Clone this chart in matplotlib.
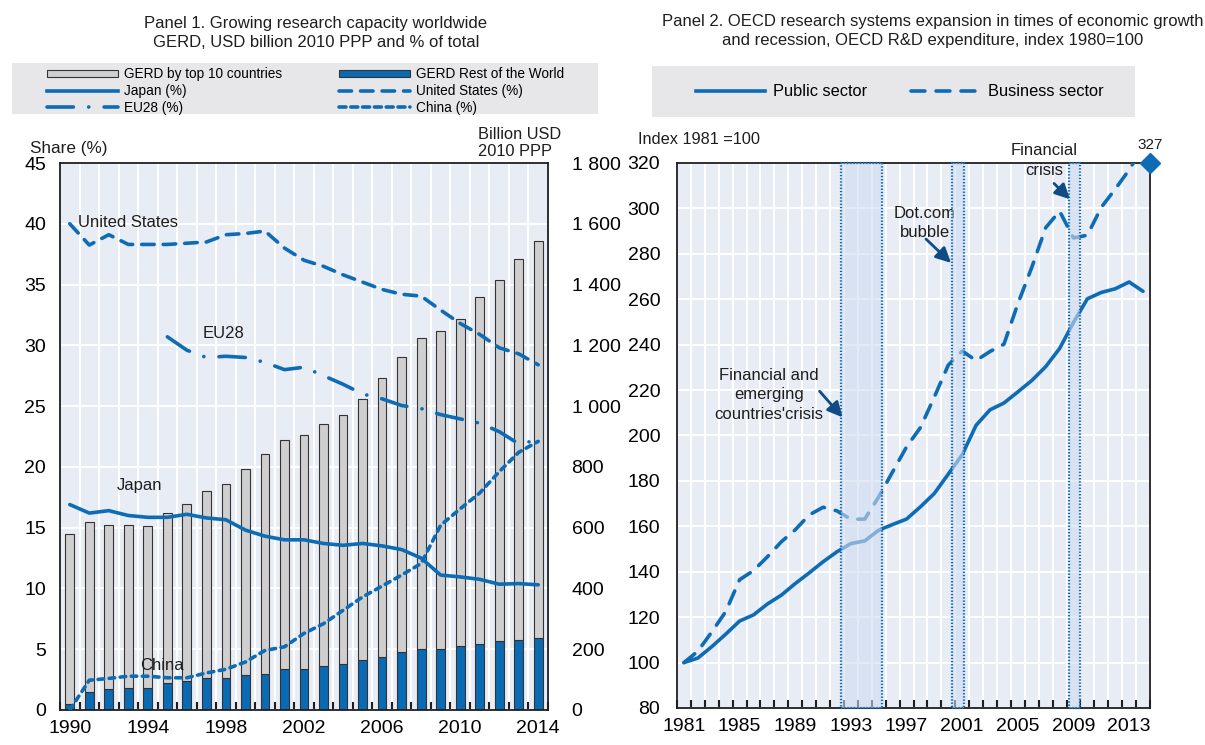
import matplotlib
matplotlib.use("Agg")
import matplotlib.pyplot as plt
from matplotlib.patches import Rectangle, Patch
from matplotlib.lines import Line2D
from matplotlib.ticker import FixedLocator, FuncFormatter
import numpy as np

plt.rcParams["font.family"] = ["Liberation Sans Narrow", "Liberation Sans", "DejaVu Sans"]
plt.rcParams["lines.scale_dashes"] = False

# ---------------- data: panel 1 ----------------
years1 = list(range(1990, 2015))
gerd_top10 = [560, 560, 538, 534, 534, 560, 582, 616, 638, 676, 724, 752, 768, 796,
              820, 860, 916, 970, 1022, 1046, 1078, 1142, 1190, 1254, 1308]
gerd_rest = [20, 60, 70, 74, 72, 88, 96, 104, 106, 116, 120, 136, 136, 144,
             152, 164, 176, 190, 202, 202, 210, 218, 226, 230, 236]
japan = [16.9, 16.2, 16.4, 16.0, 15.85, 15.85, 16.1, 15.8, 15.65, 14.8, 14.3, 14.0, 14.0,
         13.7, 13.55, 13.7, 13.5, 13.2, 12.5, 11.1, 10.95, 10.75, 10.35, 10.4, 10.3]
united_states = [40.0, 38.25, 39.1, 38.3, 38.3, 38.3, 38.4, 38.5, 39.1, 39.2, 39.4, 38.0, 37.0,
                 36.5, 35.8, 35.2, 34.6, 34.2, 34.05, 32.9, 31.8, 30.9, 29.8, 29.3, 28.4]
eu28_years = list(range(1995, 2015))
eu28 = [30.7, 29.6, 29.0, 29.1, 29.0, 28.6, 28.0, 28.2, 27.5, 26.8, 26.0, 25.6, 25.05,
        24.8, 24.3, 23.95, 23.6, 22.9, 21.9, 22.2]
china = [0.0, 2.45, 2.6, 2.78, 2.78, 2.65, 2.65, 3.05, 3.35, 3.95, 4.9, 5.2, 6.3, 7.1,
         8.2, 9.3, 10.2, 11.1, 12.05, 15.2, 16.55, 17.85, 19.6, 21.2, 22.1]

# ---------------- data: panel 2 ----------------
years2 = list(range(1981, 2015))
public_sector = [100, 102, 107, 112.5, 118.3, 121, 125.8, 129.7, 134.8, 139.5, 144.4,
                 148.8, 152.4, 153.6, 158.3, 160.8, 163.2, 168.6, 174.5, 183.0, 191.5,
                 204.5, 211.3, 214.3, 219.2, 224.2, 230.3, 238.3, 249.8, 260.2, 263.0,
                 264.6, 267.6, 263.5]
business_sector = [100, 105, 113.5, 122.4, 136.5, 140.5, 146.6, 153.2, 158.5, 165.0,
                   168.4, 166.8, 163.1, 163.2, 173.0, 184.0, 195.0, 203.5, 217.0, 231.0,
                   237.2, 233.0, 237.0, 240.2, 258.0, 274.0, 291.5, 298.8, 287.0, 288.2,
                   300.5, 308.5, 317.0, 327.0]
crisis_periods = [(1992.3, 1995.2), (2000.3, 2001.15), (2008.7, 2009.5)]

BLUE = "#0e6cb4"
BAR_BLUE = "#0a6ab3"
BAR_GREY = "#cfcfcf"
BG = "#e8ecf5"
LEG_BG = "#e7e7e9"
ARROW = "#0f4c85"
INK = "#1e1e1e"
LW = 2.6
EU_DASH = (0, (19, 11, 0.1, 11))
US_DASH = (0, (9, 6.5))
CN_DASH = (0, (4, 4))
BIZ_DASH = (0, (10, 8))

fig = plt.figure(figsize=(12.05, 7.45), dpi=100)
W, H = 1205, 745


def fx(px):
    return px / W


def fy(py):
    return 1 - py / H


# ================= Panel 1 =================
axb = fig.add_axes([fx(60), fy(710), fx(548 - 60), (710 - 163) / H])
axs = axb.twinx()

axb.set_facecolor(BG)
axb.bar(years1, gerd_rest, width=0.45, color=BAR_BLUE, edgecolor="#333333",
        linewidth=0.8, zorder=2)
axb.bar(years1, gerd_top10, bottom=gerd_rest, width=0.45, color=BAR_GREY,
        edgecolor="#333333", linewidth=0.8, zorder=2)
axb.set_xlim(1989.5, 2014.5)
axb.set_ylim(0, 1800)
axb.yaxis.tick_right()
axb.yaxis.set_label_position("right")
axb.set_yticks(range(0, 1801, 200))
axb.yaxis.set_major_formatter(FuncFormatter(lambda v, p: f"{int(v):,}".replace(",", " ")))
axb.tick_params(axis="y", length=0, pad=17, labelsize=14)
for lab in axb.get_yticklabels():
    lab.set_horizontalalignment("left")
axb.set_xticks(range(1990, 2015, 4))
axb.xaxis.set_minor_locator(FixedLocator(np.arange(1989.5, 2015, 1.0)))
axb.tick_params(axis="x", which="major", length=0, pad=7, labelsize=14)
axb.tick_params(axis="x", which="minor", length=6, width=1.5, direction="in", color=INK)
axb.grid(True, which="minor", axis="x", color="white", linewidth=1.5, zorder=0)
axb.grid(True, which="major", axis="y", color="white", linewidth=1.5, zorder=0)
axb.set_axisbelow(True)
for s in axb.spines.values():
    s.set_color(INK)
    s.set_linewidth(1.3)

axs.set_zorder(axb.get_zorder() + 1)
axs.patch.set_visible(False)
axs.yaxis.tick_left()
axs.yaxis.set_label_position("left")
axs.set_ylim(0, 45)
axs.set_yticks(range(0, 46, 5))
axs.tick_params(axis="y", length=0, pad=10, labelsize=14)
for s in axs.spines.values():
    s.set_visible(False)

axs.plot(years1, japan, color=BLUE, lw=LW, solid_capstyle="round", solid_joinstyle="round")
axs.plot(years1, united_states, color=BLUE, lw=LW, linestyle=US_DASH, dash_capstyle="round")
axs.plot(eu28_years, eu28, color=BLUE, lw=LW, linestyle=EU_DASH, dash_capstyle="round")
axs.plot(years1, china, color=BLUE, lw=LW, linestyle=CN_DASH, dash_capstyle="round")

txt_kw = dict(fontsize=12, color=INK)
axs.text(1990.4, 40.1, "United States", ha="left", va="center", **txt_kw)
axs.text(1996.8, 31.0, "EU28", ha="left", va="center", **txt_kw)
axs.text(1992.4, 18.5, "Japan", ha="left", va="center", **txt_kw)
axs.text(1993.6, 3.7, "China", ha="left", va="center", **txt_kw)

fig.text(fx(30), fy(148), "Share (%)", ha="left", va="center", fontsize=12.3, color=INK)
fig.text(fx(478), fy(143), "Billion USD\n2010 PPP", ha="left", va="center",
         fontsize=11.8, color=INK, linespacing=1.15)

fig.text(fx(316), fy(33), "Panel 1. Growing research capacity worldwide\n"
         "GERD, USD billion 2010 PPP and % of total", ha="center", va="center",
         fontsize=12, color=INK, linespacing=1.4)

# legend for panel 1
fig.patches.append(Rectangle((fx(12), fy(114)), fx(598 - 12), (114 - 63) / H,
                             transform=fig.transFigure, facecolor=LEG_BG,
                             edgecolor="none", zorder=0))
h1 = [Patch(facecolor=BAR_GREY, edgecolor="#333333", linewidth=0.8),
      Line2D([], [], color=BLUE, lw=LW),
      Line2D([], [], color=BLUE, lw=LW, linestyle=EU_DASH, dash_capstyle="round"),
      Patch(facecolor=BAR_BLUE, edgecolor="#333333", linewidth=0.8),
      Line2D([], [], color=BLUE, lw=LW, linestyle=US_DASH, dash_capstyle="round"),
      Line2D([], [], color=BLUE, lw=LW, linestyle=(0, (5, 3.5)), dash_capstyle="round")]
l1 = ["GERD by top 10 countries", "Japan (%)", "EU28 (%)",
      "GERD Rest of the World", "United States (%)", "China (%)"]
fig.legend(h1, l1, ncol=2, loc="center left", bbox_to_anchor=(fx(40), fy(91)),
           frameon=False, fontsize=9.8, handlelength=5.2, handleheight=0.5,
           labelspacing=0.2, columnspacing=4.2, handletextpad=0.45, borderpad=0)

# ================= Panel 2 =================
ax2 = fig.add_axes([fx(677), fy(708), fx(1150 - 677), (708 - 163) / H])
ax2.set_facecolor(BG)
ax2.set_xlim(1980.5, 2014.5)
ax2.set_ylim(80, 320)
ax2.set_yticks(range(80, 321, 20))
ax2.set_xticks(range(1981, 2015, 4))
ax2.xaxis.set_minor_locator(FixedLocator(np.arange(1980.5, 2015, 1.0)))
ax2.tick_params(axis="x", which="major", length=0, pad=7, labelsize=14)
ax2.tick_params(axis="x", which="minor", length=6, width=1.5, direction="in", color=INK)
ax2.tick_params(axis="y", length=0, pad=12, labelsize=14)
ax2.grid(True, which="minor", axis="x", color="white", linewidth=1.5, zorder=0)
ax2.grid(True, which="major", axis="y", color="white", linewidth=1.5, zorder=0)
ax2.set_axisbelow(True)
for s in ax2.spines.values():
    s.set_color(INK)
    s.set_linewidth(1.3)

ax2.plot(years2, public_sector, color=BLUE, lw=LW, solid_capstyle="round",
         solid_joinstyle="round", zorder=3)
ax2.plot(years2, business_sector, color=BLUE, lw=LW, linestyle=BIZ_DASH,
         dash_capstyle="round", zorder=3)

for x0, x1 in crisis_periods:
    ax2.add_patch(Rectangle((x0, 80), x1 - x0, 240, facecolor="#cfdcf1", alpha=0.6,
                            edgecolor="none", zorder=4))
    ax2.add_patch(Rectangle((x0, 80), x1 - x0, 240, facecolor="none",
                            edgecolor=BLUE, linestyle=(0, (1, 1.3)), linewidth=1.6,
                            zorder=5, clip_on=False))

# out-of-range end value marker
ax2.plot([2014.5], [320], marker="D", markersize=10, color=BLUE, clip_on=False, zorder=6)
ax2.text(2014.5, 325, f"{business_sector[-1]:.0f}", ha="center", va="bottom",
         fontsize=11, color=INK)

ann_kw = dict(fontsize=12, color=INK, ha="center", va="center", linespacing=1.38)
arrow_kw = dict(arrowstyle="-|>,head_length=0.9,head_width=0.45", color=ARROW, lw=2,
                shrinkA=0, shrinkB=0)
ax2.text(1987.1, 218, "Financial and\nemerging\ncountries'crisis", **ann_kw)
ax2.annotate("", xy=(1992.4, 208), xytext=(1990.75, 219.5), arrowprops=arrow_kw,
             zorder=6)
ax2.text(1998.3, 293.5, "Dot.com\nbubble", **ann_kw)
ax2.annotate("", xy=(2000.2, 276), xytext=(1998.4, 286.5), arrowprops=arrow_kw,
             zorder=6)
ax2.text(2006.9, 321, "Financial\ncrisis", clip_on=False, **ann_kw)
ax2.annotate("", xy=(2008.75, 304), xytext=(2007.6, 311), arrowprops=arrow_kw,
             zorder=6)

fig.text(fx(638), fy(140), "Index 1981 =100", ha="left", va="center", fontsize=11.8,
         color=INK)
fig.text(fx(933), fy(31), "Panel 2. OECD research systems expansion in times of economic growth\n"
         "and recession, OECD R&D expenditure, index 1980=100", ha="center", va="center",
         fontsize=12, color=INK, linespacing=1.35)

fig.patches.append(Rectangle((fx(652), fy(117)), fx(1135 - 652), (117 - 66) / H,
                             transform=fig.transFigure, facecolor=LEG_BG,
                             edgecolor="none", zorder=0))
h2 = [Line2D([], [], color=BLUE, lw=LW),
      Line2D([], [], color=BLUE, lw=LW, linestyle=BIZ_DASH, dash_capstyle="round")]
fig.legend(h2, ["Public sector", "Business sector"], ncol=2, loc="center",
           bbox_to_anchor=(fx(900), fy(92)), frameon=False, fontsize=11.8,
           handlelength=4.2, columnspacing=2.7, handletextpad=0.5, borderpad=0)

fig.savefig("out.png", dpi=100, facecolor="white")
